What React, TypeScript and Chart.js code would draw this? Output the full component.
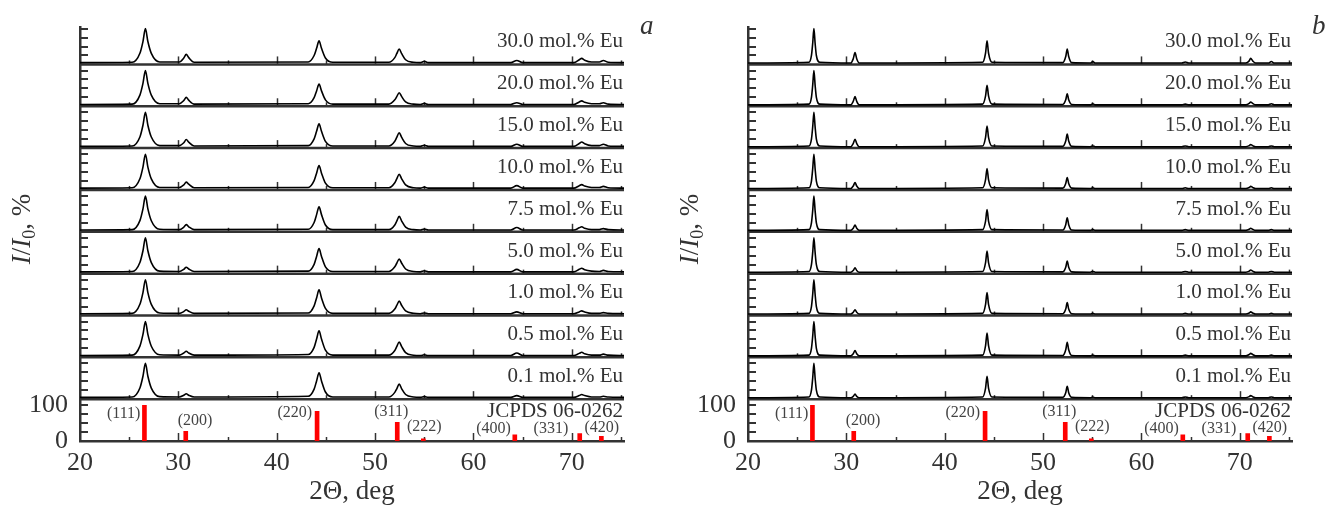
import React, { useEffect, useRef } from 'react';
import { Chart, registerables } from 'chart.js';

Chart.register(...registerables);

// ---------- DATA ----------
// strips from bottom (just above the reference pattern) to top
const concentrations = ['0.1', '0.5', '1.0', '5.0', '7.5', '10.0', '15.0', '20.0', '30.0'];
const xTickValues = [20, 30, 40, 50, 60, 70];
const yTickLabels = [0, 100];

const refPositions = [26.55, 30.75, 44.1, 52.25, 54.9, 64.2, 70.8, 73.0];
const refIntensities = [100, 27, 83, 52, 6, 17, 21, 13];
const refHkl = ['(111)', '(200)', '(220)', '(311)', '(222)', '(400)', '(331)', '(420)'];
const refCard = 'JCPDS 06-0262';

// panel a (2Θ, deg)
const twoThetaA = [20, 25.3, 26.1, 26.4, 26.65, 26.9, 27.25, 28.1, 30.1, 30.55, 30.8, 31.05, 31.6, 43.2, 43.8, 44.05, 44.3, 44.55, 44.95, 45.7, 51.4, 52.0, 52.2, 52.45, 52.7, 53.1, 53.9, 54.6, 55.0, 55.4, 63.8, 64.4, 65.0, 70.2, 70.75, 71.0, 71.3, 72.0, 72.8, 73.2, 73.7, 75.3];
const a_0_1 = [5, 6, 32, 64, 100, 64, 31, 7, 6, 11, 15, 11, 6, 8, 28, 51, 74, 51, 20, 6, 6, 19, 29, 42, 29, 13, 6, 5, 7, 5, 5, 10, 5, 5, 10, 13, 10, 6, 6, 8, 6, 5];
const a_0_5 = [5, 6, 32, 64, 100, 64, 31, 7, 6, 12, 17, 12, 6, 8, 28, 51, 74, 51, 20, 6, 6, 19, 30, 43, 30, 13, 6, 5, 7, 5, 5, 12, 5, 5, 11, 14, 10, 6, 6, 9, 6, 5];
const a_1_0 = [5, 6, 32, 64, 100, 64, 31, 7, 6, 11, 16, 12, 6, 7, 27, 49, 72, 49, 20, 6, 6, 18, 28, 40, 28, 13, 6, 5, 7, 5, 5, 10, 5, 5, 10, 13, 10, 6, 6, 8, 6, 5];
const a_5_0 = [5, 6, 32, 64, 100, 64, 31, 7, 6, 12, 18, 13, 6, 7, 26, 48, 70, 48, 19, 6, 6, 19, 29, 41, 29, 13, 6, 5, 8, 5, 5, 12, 5, 5, 12, 15, 11, 7, 6, 9, 6, 5];
const a_7_5 = [5, 6, 32, 64, 100, 64, 31, 7, 6, 13, 20, 14, 6, 7, 26, 48, 70, 48, 19, 6, 6, 19, 30, 43, 30, 13, 6, 5, 8, 5, 5, 12, 5, 5, 11, 14, 10, 6, 6, 9, 6, 5];
const a_10_0 = [5, 6, 32, 64, 100, 64, 31, 7, 7, 14, 22, 16, 6, 7, 26, 47, 68, 47, 19, 6, 6, 20, 31, 44, 31, 14, 6, 5, 8, 5, 5, 12, 5, 5, 12, 15, 11, 7, 7, 10, 6, 5];
const a_15_0 = [5, 6, 32, 64, 100, 64, 31, 7, 7, 15, 24, 17, 6, 7, 26, 47, 68, 47, 19, 6, 6, 19, 30, 43, 30, 13, 6, 5, 8, 5, 5, 11, 5, 5, 13, 17, 12, 7, 7, 11, 6, 5];
const a_20_0 = [5, 6, 32, 64, 100, 64, 31, 7, 7, 16, 25, 17, 6, 7, 24, 43, 62, 43, 18, 6, 6, 18, 27, 38, 27, 12, 6, 5, 8, 5, 5, 10, 5, 5, 12, 15, 11, 7, 7, 10, 6, 5];
const a_30_0 = [5, 6, 32, 64, 100, 64, 31, 7, 7, 18, 28, 19, 6, 7, 25, 45, 66, 45, 18, 6, 6, 19, 30, 43, 30, 13, 6, 5, 9, 5, 5, 11, 5, 5, 13, 17, 12, 7, 7, 11, 6, 5];

// panel b (2Θ, deg)
const twoThetaB = [20, 26.2, 26.45, 26.58, 26.7, 26.82, 26.95, 27.3, 30.45, 30.7, 30.88, 31.05, 31.3, 43.85, 44.15, 44.3, 44.45, 44.8, 52.0, 52.3, 52.45, 52.6, 52.9, 54.8, 55.05, 55.3, 64.1, 64.45, 64.8, 70.6, 70.95, 71.1, 71.3, 71.6, 72.9, 73.2, 73.5, 75.3];
const b_0_1 = [4, 6, 25, 60, 100, 60, 25, 6, 4, 8, 14, 8, 4, 6, 31, 64, 31, 6, 5, 18, 36, 18, 5, 4, 6, 4, 4, 6, 4, 4, 7, 10, 7, 4, 4, 6, 4, 4];
const b_0_5 = [4, 6, 25, 60, 100, 60, 25, 6, 4, 10, 19, 10, 4, 6, 33, 68, 33, 6, 5, 21, 42, 21, 5, 4, 6, 4, 4, 6, 4, 4, 8, 11, 8, 4, 4, 6, 4, 4];
const b_1_0 = [4, 6, 25, 60, 100, 60, 25, 6, 4, 9, 16, 9, 4, 6, 31, 64, 31, 6, 5, 18, 36, 18, 5, 4, 6, 4, 4, 6, 4, 4, 7, 10, 7, 4, 4, 6, 4, 4];
const b_5_0 = [4, 6, 25, 60, 100, 60, 25, 6, 4, 9, 16, 9, 4, 6, 31, 63, 31, 6, 5, 18, 35, 18, 5, 4, 6, 4, 4, 6, 4, 4, 7, 10, 7, 4, 4, 6, 4, 4];
const b_7_5 = [4, 6, 25, 60, 100, 60, 25, 6, 4, 10, 19, 10, 4, 6, 30, 62, 30, 6, 5, 20, 39, 20, 5, 4, 6, 4, 4, 6, 4, 4, 7, 10, 7, 4, 4, 6, 4, 4];
const b_10_0 = [4, 6, 25, 60, 100, 60, 25, 6, 4, 11, 21, 11, 4, 6, 29, 60, 29, 6, 5, 18, 35, 18, 5, 4, 6, 4, 4, 6, 4, 4, 7, 10, 7, 4, 4, 6, 4, 4];
const b_15_0 = [4, 6, 25, 60, 100, 60, 25, 6, 4, 13, 25, 13, 4, 6, 30, 62, 30, 6, 5, 20, 39, 20, 5, 4, 6, 4, 4, 6, 4, 4, 7, 10, 7, 4, 4, 6, 4, 4];
const b_20_0 = [4, 6, 25, 60, 100, 60, 25, 6, 4, 14, 27, 14, 4, 6, 29, 59, 29, 6, 5, 18, 35, 18, 5, 4, 7, 4, 4, 6, 4, 4, 8, 12, 8, 4, 4, 7, 4, 4];
const b_30_0 = [4, 6, 25, 60, 100, 60, 25, 6, 4, 16, 33, 16, 4, 6, 32, 66, 32, 6, 5, 22, 43, 22, 5, 4, 8, 4, 4, 7, 4, 4, 10, 17, 10, 4, 4, 8, 4, 4];

const seriesA = [a_0_1, a_0_5, a_1_0, a_5_0, a_7_5, a_10_0, a_15_0, a_20_0, a_30_0];
const seriesB = [b_0_1, b_0_5, b_1_0, b_5_0, b_7_5, b_10_0, b_15_0, b_20_0, b_30_0];

// ---------- STYLE / LAYOUT ----------
const STRIP = 117; // y-units per strip
const YMAX = 9 * STRIP + 103;
const FONT = '"Liberation Serif", "Times New Roman", serif';
const INK = '#333333';
const CANVAS_H = 505;

// label placement for hkl text relative to its bar: [align, dx px, height above axis px]
const hklPlace: [CanvasTextAlign, number, number][] = [
  ['right', -4, 27],
  ['left', -8, 20.5],
  ['right', -5, 28],
  ['center', -6, 29.5],
  ['center', 1, 14.5],
  ['right', -4, 12],
  ['right', -11.5, 12],
  ['center', 0.5, 13.5],
];

type PanelDef = {
  letter: string;
  letterX: number;
  x: number[];
  series: number[][];
  left: number;
  width: number;
};

const panels: PanelDef[] = [
  { letter: 'a', letterX: 640, x: twoThetaA, series: seriesA, left: 0, width: 668 },
  { letter: 'b', letterX: 644, x: twoThetaB, series: seriesB, left: 668, width: 658 },
];

function makeDecor(panel: PanelDef) {
  return {
    id: 'xrdDecor',
    beforeDatasetsDraw(chart: any) {
      const { ctx, chartArea: ca, scales } = chart;
      const x = scales.x;
      const y = scales.y;
      ctx.save();
      ctx.strokeStyle = INK;
      ctx.lineCap = 'butt';
      // strip separators
      ctx.lineWidth = 2.5;
      for (let k = 1; k <= 9; k++) {
        const py = y.getPixelForValue(k * STRIP);
        ctx.beginPath();
        ctx.moveTo(ca.left, py);
        ctx.lineTo(ca.right, py);
        ctx.stroke();
      }
      // inward x tick marks on each strip bottom
      ctx.lineWidth = 1.5;
      for (let k = 0; k <= 9; k++) {
        const py = y.getPixelForValue(k * STRIP);
        for (let v = 25; v <= 75; v += 5) {
          const px = Math.round(x.getPixelForValue(v)) + 0.5;
          const len = v % 10 === 0 ? 8 : 4;
          ctx.beginPath();
          ctx.moveTo(px, py);
          ctx.lineTo(px, py - len);
          ctx.stroke();
        }
      }
      // inward y tick marks in each strip
      ctx.lineWidth = 2;
      for (let k = 0; k <= 9; k++) {
        for (const t of [25, 50, 75, 100]) {
          const py = Math.round(y.getPixelForValue(k * STRIP + t));
          ctx.beginPath();
          ctx.moveTo(ca.left, py);
          ctx.lineTo(ca.left + 8, py);
          ctx.stroke();
        }
      }
      ctx.restore();
    },
    afterDraw(chart: any) {
      const { ctx, chartArea: ca, scales } = chart;
      const x = scales.x;
      const y = scales.y;
      ctx.save();
      ctx.fillStyle = INK;
      ctx.textBaseline = 'middle';
      // strip labels
      ctx.font = `21px ${FONT}`;
      ctx.textAlign = 'right';
      concentrations.forEach((c, i) => {
        const py = y.getPixelForValue((i + 1) * STRIP + 63);
        ctx.fillText(`${c} mol.% Eu`, ca.right - 1, py);
      });
      ctx.fillText(refCard, ca.right - 1, ca.bottom - 30);
      // hkl labels
      ctx.font = `16px ${FONT}`;
      ctx.fillStyle = '#444444';
      refHkl.forEach((h, i) => {
        const [align, dx, dy] = hklPlace[i];
        ctx.textAlign = align;
        ctx.fillText(h, x.getPixelForValue(refPositions[i]) + dx, ca.bottom - dy);
      });
      // x title
      ctx.fillStyle = INK;
      ctx.textAlign = 'center';
      ctx.textBaseline = 'alphabetic';
      ctx.font = `27px ${FONT}`;
      ctx.fillText('2Θ, deg', (ca.left + ca.right) / 2, 499);
      // y title (rotated): I/I0, %
      const parts = [
        { t: 'I', f: `italic 27px ${FONT}`, dy: 0 },
        { t: '/', f: `27px ${FONT}`, dy: 0 },
        { t: 'I', f: `italic 27px ${FONT}`, dy: 0 },
        { t: '0', f: `18px ${FONT}`, dy: 5 },
        { t: ', %', f: `27px ${FONT}`, dy: 0 },
      ];
      let total = 0;
      const widths = parts.map((p) => {
        ctx.font = p.f;
        const w = ctx.measureText(p.t).width;
        total += w;
        return w;
      });
      ctx.save();
      ctx.translate(30, 229);
      ctx.rotate(-Math.PI / 2);
      ctx.textAlign = 'left';
      let cx = -total / 2;
      parts.forEach((p, i) => {
        ctx.font = p.f;
        ctx.fillText(p.t, cx, p.dy);
        cx += widths[i];
      });
      ctx.restore();
      // panel letter
      ctx.font = `italic 27px ${FONT}`;
      ctx.textAlign = 'left';
      ctx.fillText(panel.letter, panel.letterX, 33.5);
      ctx.restore();
    },
  };
}

function XrdPanel({ panel }: { panel: PanelDef }) {
  const ref = useRef<HTMLCanvasElement>(null);
  useEffect(() => {
    const canvas = ref.current;
    if (!canvas) return;
    const lineSets = panel.series.map((vals, k) => ({
      type: 'line' as const,
      label: `${concentrations[k]} mol.% Eu`,
      data: panel.x.map((xv, i) => ({ x: xv, y: (k + 1) * STRIP + vals[i] })),
      borderColor: '#000000',
      borderWidth: 1.6,
      pointRadius: 0,
      fill: false,
      cubicInterpolationMode: 'monotone' as const,
    }));
    const barSet = {
      type: 'bar' as const,
      label: refCard,
      data: refPositions.map((p, i) => ({ x: p, y: refIntensities[i] })),
      backgroundColor: '#ff0000',
      borderWidth: 0,
      barThickness: 4,
    };
    const chart = new Chart(canvas, {
      type: 'line',
      data: { datasets: [barSet as any, ...lineSets] },
      options: {
        animation: false,
        responsive: false,
        maintainAspectRatio: false,
        devicePixelRatio: 1,
        layout: { padding: { top: 20, right: panel.width - 624, left: 0, bottom: 0 } },
        plugins: { legend: { display: false }, tooltip: { enabled: false } },
        scales: {
          x: {
            type: 'linear',
            min: 20,
            max: 75.3,
            offset: false,
            grid: { display: false, drawTicks: false },
            border: { display: true, color: INK, width: 2.5 },
            ticks: {
              stepSize: 5,
              includeBounds: false,
              autoSkip: false,
              maxRotation: 0,
              padding: 7,
              color: INK,
              font: { family: FONT, size: 26 },
              callback: (v: any) => (xTickValues.includes(Number(v)) ? String(v) : ''),
            },
            afterFit: (s: any) => {
              s.height = 64;
            },
          },
          y: {
            type: 'linear',
            min: 0,
            max: YMAX,
            grid: { display: false, drawTicks: false },
            border: { display: true, color: INK, width: 2.5 },
            afterBuildTicks: (s: any) => {
              s.ticks = yTickLabels.map((v) => ({ value: v }));
            },
            ticks: {
              padding: 12,
              color: INK,
              font: { family: FONT, size: 26 },
              callback: (v: any) => String(v),
            },
            afterFit: (s: any) => {
              s.width = 80;
            },
          },
        },
      },
      plugins: [makeDecor(panel)],
    } as any);
    return () => chart.destroy();
  }, [panel]);
  return (
    <canvas
      ref={ref}
      width={panel.width}
      height={CANVAS_H}
      style={{ position: 'absolute', left: panel.left, top: 0, width: panel.width, height: CANVAS_H }}
    />
  );
}

export default function App() {
  return (
    <div style={{ position: 'absolute', left: 0, top: 0, width: 1326, height: CANVAS_H, background: '#ffffff' }}>
      {panels.map((p) => (
        <XrdPanel key={p.letter} panel={p} />
      ))}
    </div>
  );
}
